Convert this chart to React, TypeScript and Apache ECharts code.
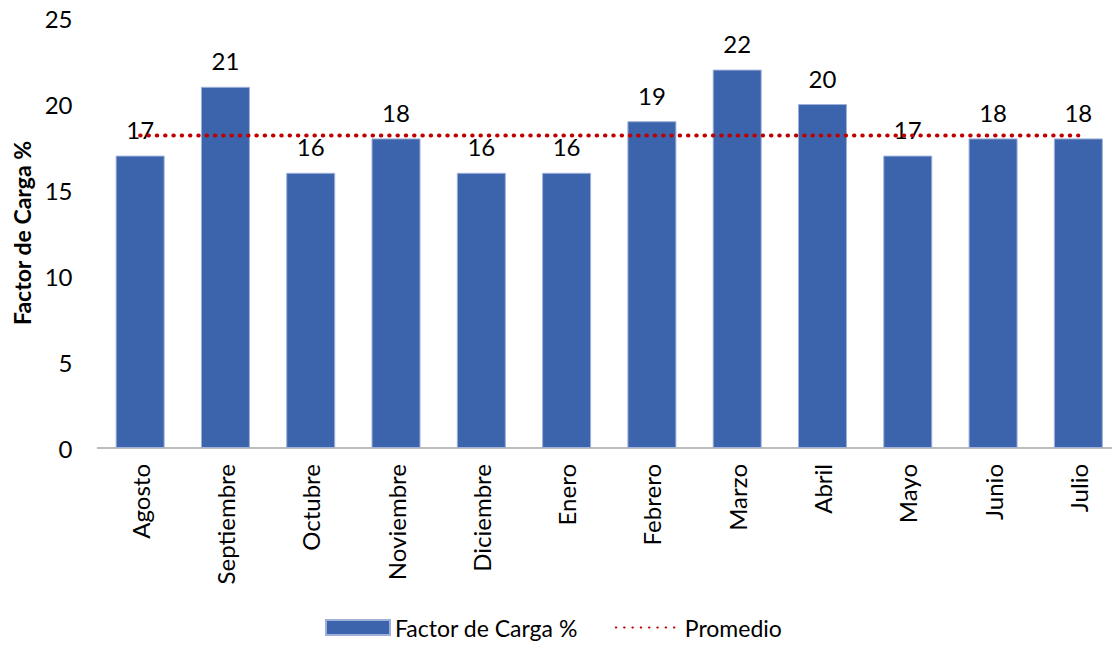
import React, { useEffect, useRef } from "react";
import * as echarts from "echarts";

const categories = ["Agosto", "Septiembre", "Octubre", "Noviembre", "Diciembre", "Enero", "Febrero", "Marzo", "Abril", "Mayo", "Junio", "Julio"];
const factorCarga = [17, 21, 16, 18, 16, 16, 19, 22, 20, 17, 18, 18];
const promedio = [18.17, 18.17, 18.17, 18.17, 18.17, 18.17, 18.17, 18.17, 18.17, 18.17, 18.17, 18.17];
const yTicks = { min: 0, max: 25, interval: 5 };

const FONT = "Lato, 'Liberation Sans', sans-serif";

export default function App() {
  const ref = useRef<HTMLDivElement>(null);
  useEffect(() => {
    if (!ref.current) return;
    const chart = echarts.init(ref.current, undefined, { renderer: "svg" });
    chart.setOption({
      animation: false,
      backgroundColor: "#ffffff",
      textStyle: { fontFamily: FONT },
      grid: { left: 97.5, right: 4, top: 18, bottom: 197, containLabel: false, outerBoundsMode: "none" },
      legend: {
        top: 611,
        left: 320,
        itemWidth: 64,
        itemHeight: 15,
        itemGap: 37,
        textStyle: { fontFamily: FONT, fontSize: 23, color: "#000" },
        data: [
          { name: "Factor de Carga %", icon: "rect" },
          { name: "Promedio", itemStyle: { opacity: 0 } },
        ],
      },
      xAxis: {
        type: "category",
        data: categories,
        axisLine: { show: true, lineStyle: { color: "#a6a6a6", width: 1.5 } },
        axisTick: { show: false },
        axisLabel: { rotate: 90, fontSize: 24, color: "#000", fontFamily: FONT, margin: 16, interval: 0 },
      },
      yAxis: {
        type: "value",
        min: yTicks.min,
        max: yTicks.max,
        interval: yTicks.interval,
        name: "Factor de Carga %",
        nameLocation: "middle",
        nameGap: 64,
        nameRotate: 90,
        nameTextStyle: { fontSize: 23, fontWeight: "bold", color: "#000", fontFamily: FONT },
        axisLine: { show: false },
        axisTick: { show: false },
        splitLine: { show: false },
        axisLabel: { fontSize: 24, color: "#000", fontFamily: FONT, margin: 25 },
      },
      series: [
        {
          name: "Factor de Carga %",
          type: "bar",
          data: factorCarga,
          barWidth: 49,
          itemStyle: { color: "#3c64ac", borderColor: "#9fb1d9", borderWidth: 1 },
          label: { show: true, position: "top", distance: 14, fontSize: 24, color: "#000", fontFamily: FONT },
        },
        {
          name: "Promedio",
          type: "line",
          data: promedio,
          symbol: "none",
          z: 5,
          lineStyle: { color: "#c00000", width: 4, type: [0.5, 7.8], cap: "round" },
          itemStyle: { color: "#c00000" },
        },
      ],
    });
    return () => chart.dispose();
  }, []);
  return (
    <div style={{ position: "fixed", left: 0, top: 0, width: 1112, height: 645, overflow: "hidden", background: "#fff" }}>
      <div ref={ref} style={{ width: 1125, height: 645 }} />
    </div>
  );
}
